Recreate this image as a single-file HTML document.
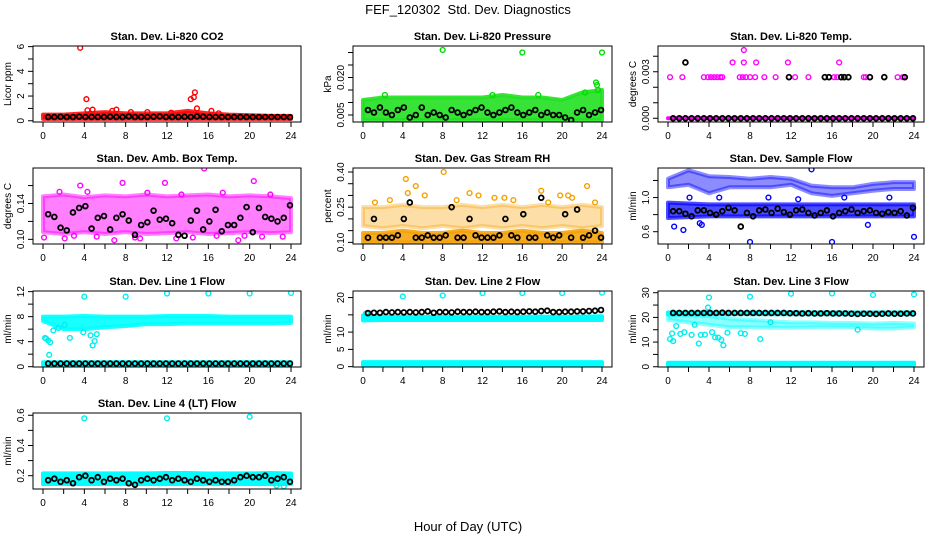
<!DOCTYPE html>
<html><head><meta charset="utf-8">
<style>
body{margin:0;background:#fff;}
svg{display:block;font-family:"Liberation Sans",Arial,sans-serif;}
.t{font-weight:bold;font-size:11px;}
.tk{font-size:10px;}
</style></head>
<body>
<svg id="chart" width="936" height="540" viewBox="0 0 936 540" xmlns="http://www.w3.org/2000/svg">
<rect width="936" height="540" fill="#fff"/>
<text x="468" y="14" text-anchor="middle" font-size="13" xml:space="preserve">FEF_120302  Std. Dev. Diagnostics</text>
<text x="468" y="531" text-anchor="middle" font-size="13">Hour of Day (UTC)</text>
</svg>
<script>
const HOURS=[0.5,1.1,1.7,2.3,2.9,3.5,4.1,4.7,5.3,5.9,6.5,7.1,7.7,8.3,8.9,9.5,10.1,10.7,11.3,11.9,12.5,13.1,13.7,14.3,14.9,15.5,16.1,16.7,17.3,17.9,18.5,19.1,19.7,20.3,20.9,21.5,22.1,22.7,23.3,23.9];
const BAND_H=[0,2,4,6,8,10,12,14,16,18,20,22,24];
const X_TICKS=[0,2,4,6,8,10,12,14,16,18,20,22,24];
const X_LABELS=[0,4,8,12,16,20,24];

const P1_LO=[0.15,0.15,0.15,0.15,0.15,0.15,0.15,0.15,0.15,0.15,0.15,0.15,0.15];
const P1_HI=[0.5,0.5,0.6,0.7,0.6,0.6,0.6,0.8,0.6,0.5,0.45,0.4,0.4];
const P1_RX=[3.6,4.2,4.3,4.8,6.7,7.1,8.5,10.1,12.4,14.3,14.6,14.7,14.9,16.3,17.0];
const P1_RY=[5.9,1.75,0.85,0.9,0.8,0.9,0.7,0.7,0.65,1.75,1.9,2.3,1.0,0.8,0.6];
const P1_BY=[0.3,0.3,0.32,0.3,0.3,0.33,0.3,0.3,0.3,0.3,0.32,0.3,0.3,0.35,0.3,0.3,0.3,0.32,0.35,0.3,0.3,0.3,0.32,0.3,0.35,0.32,0.3,0.3,0.3,0.3,0.3,0.3,0.3,0.3,0.3,0.3,0.3,0.3,0.3,0.28];
const P2_LO=[0.003,0.003,0.003,0.003,0.003,0.003,0.003,0.003,0.003,0.003,0.003,0.003,0.003];
const P2_HI=[0.011,0.012,0.012,0.012,0.012,0.012,0.012,0.013,0.012,0.012,0.011,0.014,0.015];
const P2_GX=[8.0,16.0,24.0,23.4,23.5,22.3,23.6,17.6,13.0,2.2];
const P2_GY=[0.031,0.030,0.030,0.018,0.017,0.014,0.015,0.013,0.013,0.013];
const P2_BY=[0.007,0.006,0.008,0.006,0.005,0.007,0.008,0.004,0.005,0.008,0.005,0.006,0.005,0.004,0.007,0.006,0.005,0.006,0.007,0.008,0.006,0.005,0.006,0.007,0.008,0.006,0.005,0.006,0.007,0.005,0.006,0.005,0.005,0.004,0.003,0.006,0.007,0.005,0.006,0.007];
const P3_LO=[0,0,0,0,0,0,0,0,0,0,0,0,0];
const P3_HI=[0,0,0,0,0,0,0,0,0,0,0,0,0];
const P3_MX=[0.2,1.4,3.5,3.9,4.2,4.5,4.8,5.1,5.3,7.0,7.3,7.6,8.0,8.5,9.4,10.5,12.4,13.7,16.2,16.5,19.1,19.3,22.4,22.9,6.3,7.4,8.6,11.7,16.7,7.4];
const P3_MY=[0.00265,0.00265,0.00265,0.00265,0.00265,0.00265,0.00265,0.00265,0.00265,0.00265,0.00265,0.00265,0.00265,0.00265,0.00265,0.00265,0.00265,0.00265,0.00265,0.00265,0.00265,0.00265,0.00265,0.00265,0.0036,0.0036,0.0036,0.0036,0.0036,0.0044];
const P3_KX=[11.8,15.3,15.7,16.9,17.2,17.6,19.7,21.1,23.1,1.7];
const P3_KY=[0.00265,0.00265,0.00265,0.00265,0.00265,0.00265,0.00265,0.00265,0.00265,0.0036];
const P3_BY=[0,0,0,0,0,0,0,0,0,0,0,0,0,0,0,0,0,0,0,0,0,0,0,0,0,0,0,0,0,0,0,0,0,0,0,0,0,0,0,0];
const P4_LO=[0.108,0.106,0.108,0.106,0.108,0.106,0.107,0.108,0.106,0.107,0.108,0.107,0.108];
const P4_HI=[0.148,0.150,0.147,0.149,0.148,0.150,0.148,0.149,0.150,0.148,0.149,0.148,0.146];
const P4_MX=[3.6,15.6,20.4,7.7,11.8,0.1,6.9,18.9,2.1,1.6,4.3,10.1,13.4,17.4,22.0,5.2,9.4,14.5,19.5,23.2,3.0,8.9,12.9,16.8,21.2];
const P4_MY=[0.160,0.179,0.165,0.163,0.163,0.102,0.099,0.099,0.101,0.153,0.153,0.152,0.150,0.152,0.150,0.103,0.101,0.102,0.104,0.103,0.104,0.102,0.101,0.104,0.103];
const P4_BY=[0.128,0.125,0.113,0.110,0.130,0.135,0.137,0.112,0.124,0.126,0.111,0.124,0.128,0.121,0.105,0.116,0.119,0.132,0.122,0.123,0.118,0.105,0.104,0.121,0.132,0.111,0.120,0.133,0.109,0.116,0.116,0.124,0.136,0.108,0.135,0.125,0.123,0.120,0.124,0.138];
const P5_LO=[0.10,0.10,0.10,0.10,0.10,0.10,0.10,0.10,0.10,0.10,0.10,0.10,0.10];
const P5_HI=[0.14,0.14,0.15,0.14,0.14,0.15,0.14,0.14,0.15,0.14,0.14,0.15,0.14];
const P5_ULO=[0.17,0.16,0.17,0.16,0.17,0.16,0.17,0.16,0.17,0.16,0.17,0.16,0.17];
const P5_UHI=[0.25,0.25,0.26,0.25,0.25,0.26,0.25,0.26,0.25,0.26,0.25,0.26,0.25];
const P5_OX=[4.3,5.3,8.1,17.9,22.5,4.5,1.2,6.2,9.4,11.6,13.2,15.1,19.8,21.0,23.3,2.7,10.7,14.2,18.6,20.6];
const P5_OY=[0.37,0.34,0.40,0.32,0.34,0.31,0.27,0.30,0.28,0.30,0.29,0.28,0.30,0.29,0.27,0.28,0.31,0.29,0.27,0.30];
const P5_BY=[0.12,0.20,0.12,0.12,0.12,0.13,0.20,0.27,0.12,0.12,0.13,0.12,0.12,0.13,0.25,0.12,0.12,0.20,0.13,0.12,0.12,0.12,0.13,0.20,0.13,0.12,0.22,0.12,0.12,0.29,0.13,0.12,0.13,0.22,0.12,0.24,0.12,0.13,0.15,0.12];
const P6_LO=[0.76,0.77,0.78,0.78,0.78,0.78,0.78,0.78,0.78,0.78,0.78,0.78,0.78];
const P6_HI=[0.94,0.93,0.92,0.92,0.92,0.92,0.92,0.92,0.92,0.92,0.92,0.92,0.92];
const P6_ULO=[1.12,1.15,1.05,1.12,1.12,1.12,1.15,1.05,1.02,1.05,1.08,1.10,1.10];
const P6_UHI=[1.22,1.32,1.25,1.24,1.22,1.24,1.22,1.14,1.12,1.12,1.16,1.18,1.18];
const P6_OX=[8.0,16.0,14.0,24.0,1.5,0.6,19.5,3.1,3.3,2.1,5.0,9.8,12.7,17.2,21.6];
const P6_OY=[0.48,0.48,1.33,0.54,0.62,0.66,0.68,0.70,0.68,1.00,1.00,1.00,0.98,1.00,1.00];
const P6_BY=[0.84,0.84,0.81,0.78,0.85,0.85,0.82,0.80,0.84,0.88,0.85,0.66,0.82,0.78,0.85,0.86,0.82,0.87,0.83,0.80,0.85,0.86,0.82,0.79,0.82,0.85,0.78,0.82,0.84,0.86,0.82,0.84,0.85,0.82,0.81,0.83,0.82,0.84,0.79,0.88];
const P7_LO=[7.3,6.0,6.0,6.3,6.5,6.8,6.8,6.9,6.9,6.9,6.9,6.9,7.0];
const P7_HI=[8.0,8.0,8.1,8.0,8.0,8.0,8.1,8.1,8.1,8.0,8.0,8.0,8.0];
const P7_BLO=[0.3,0.3,0.3,0.3,0.3,0.3,0.3,0.3,0.3,0.3,0.3,0.3,0.3];
const P7_BHI=[0.7,0.7,0.7,0.7,0.7,0.7,0.7,0.7,0.7,0.7,0.7,0.7,0.7];
const P7_CX=[4,8,12,16,20,24,0.3,0.5,0.7,0.6,2.6,3.9,4.6,4.8,5.0,5.2,1.0,1.5,2.1,0.2];
const P7_CY=[11.2,11.2,11.7,11.7,11.7,11.8,4.5,4.2,3.9,1.9,4.6,5.5,5.0,3.4,4.1,5.2,5.8,6.2,6.7,4.6];
const P7_BY=[0.5,0.5,0.5,0.5,0.5,0.5,0.5,0.5,0.5,0.5,0.5,0.5,0.5,0.5,0.5,0.5,0.5,0.5,0.5,0.5,0.5,0.5,0.5,0.5,0.5,0.5,0.5,0.5,0.5,0.5,0.5,0.5,0.5,0.5,0.5,0.5,0.5,0.5,0.5,0.5];
const P8_LO=[13.4,13.5,13.5,13.5,13.5,13.5,13.5,13.5,13.5,13.5,13.5,13.5,13.5];
const P8_HI=[14.8,14.4,14.4,14.4,14.4,14.4,14.5,14.4,14.4,14.5,14.4,14.5,14.6];
const P8_BLO=[0.4,0.4,0.4,0.4,0.4,0.4,0.4,0.4,0.4,0.4,0.4,0.4,0.4];
const P8_BHI=[1.3,1.3,1.3,1.3,1.3,1.3,1.3,1.3,1.3,1.3,1.3,1.3,1.3];
const P8_CX=[4,8,12,16,20,24,0.3];
const P8_CY=[20.3,20.6,21.3,21.3,21.3,21.4,15.4];
const P8_BY=[15.5,15.6,15.6,15.8,15.7,15.8,15.7,15.8,15.7,15.8,16.0,15.6,15.8,15.8,15.7,15.9,15.8,15.8,15.9,15.8,15.8,15.9,16.0,15.8,15.9,15.8,15.9,16.0,15.9,16.1,16.2,15.8,15.8,15.9,15.9,16.0,16.0,16.1,16.2,16.4];
const P9_LO=[21.2,21.3,21.3,21.3,21.3,21.3,21.3,21.3,21.3,21.3,21.3,21.3,21.3];
const P9_HI=[22.0,22.0,22.0,22.0,22.0,22.0,22.0,22.0,22.0,22.0,22.0,22.0,22.0];
const P9_MLO=[19.0,18.0,17.0,16.0,16.0,15.8,15.8,16.0,16.0,16.0,15.5,15.5,16.0];
const P9_MHI=[21.0,21.0,20.5,19.5,19.0,18.5,18.0,18.0,17.8,17.8,17.5,17.8,17.5];
const P9_BLO=[0.6,0.6,0.6,0.6,0.6,0.6,0.6,0.6,0.6,0.6,0.6,0.6,0.6];
const P9_BHI=[1.6,1.6,1.6,1.6,1.6,1.6,1.6,1.6,1.6,1.6,1.6,1.6,1.6];
const P9_CX=[4,8,12,16,20,24,0.2,0.4,0.5,0.8,1.2,1.6,2.3,2.6,3.0,3.2,3.6,4.3,4.6,4.9,5.2,5.4,5.8,7.1,7.5,9.0,10.0,18.5,3.9];
const P9_CY=[28.1,28.4,29.6,29.7,29.1,29.3,11.2,13.5,10.4,16.5,13.3,14.0,12.9,17.0,9.4,12.9,13.0,14.0,11.9,11.8,10.9,8.7,13.8,13.6,13.3,11.2,18.0,15.0,24.0];
const P9_BY=[21.8,21.8,21.8,21.8,21.8,21.8,21.8,21.8,21.9,21.8,21.8,21.8,21.8,21.8,21.8,21.8,21.8,21.8,21.8,21.7,21.7,21.6,21.7,21.6,21.6,21.7,21.6,21.6,21.6,21.5,21.4,21.5,21.5,21.4,21.5,21.6,21.5,21.5,21.6,21.6];
const P10_LO=[0.145,0.145,0.145,0.145,0.145,0.145,0.145,0.145,0.145,0.145,0.145,0.145,0.145];
const P10_HI=[0.215,0.215,0.215,0.215,0.215,0.215,0.218,0.218,0.215,0.215,0.215,0.218,0.215];
const P10_CX=[4,12,20,22.6,23.3];
const P10_CY=[0.58,0.58,0.59,0.135,0.13];
const P10_BY=[0.17,0.18,0.16,0.17,0.15,0.19,0.20,0.17,0.19,0.16,0.18,0.17,0.18,0.15,0.14,0.17,0.18,0.17,0.18,0.19,0.17,0.18,0.17,0.16,0.18,0.17,0.16,0.17,0.16,0.16,0.17,0.19,0.20,0.19,0.19,0.20,0.17,0.18,0.19,0.16];

const NS='http://www.w3.org/2000/svg';
const svg=document.getElementById('chart');
const COLS=[[33,301],[353,612],[658,924]];
const ROWS=[[46,122],[168,244],[291,367],[413,489]];

function mk(tag,attrs,parent){const e=document.createElementNS(NS,tag);for(const k in attrs)e.setAttribute(k,attrs[k]);(parent||svg).appendChild(e);return e;}

function panel(cfg){
  const [x0,x1]=COLS[cfg.col],[y0,y1]=ROWS[cfg.row];
  const g=mk('g',{});
  
  
  const xs=h=>x0+10+h/24*(x1-x0-20);
  const ys=v=>y1-(v-cfg.lo)/(cfg.hi-cfg.lo)*(y1-y0);
  const clipId='c'+cfg.name;
  const cp=mk('clipPath',{id:clipId},g);mk('rect',{x:x0,y:y0,width:x1-x0,height:y1-y0},cp);
  const plot=mk('g',{'clip-path':'url(#'+clipId+')'},g);
  (cfg.bands||[]).forEach(b=>{
    let pts=[];
    BAND_H.forEach((h,i)=>pts.push(xs(h)+','+ys(b.hi[i])));
    for(let i=BAND_H.length-1;i>=0;i--)pts.push(xs(BAND_H[i])+','+ys(b.lo[i]));
    const p=mk('polygon',{points:pts.join(' '),fill:b.color,'fill-opacity':b.op||1,stroke:b.color,'stroke-opacity':b.op||1,'stroke-width':4,'stroke-linejoin':'round'},plot);
    
    
  });
  (cfg.series||[]).forEach(s=>{
    const sw=s.color==='#000'?1.8:1.4;
    s.x.forEach((h,i)=>{
      const c=mk('circle',{cx:xs(h),cy:ys(s.y[i]),r:2.4,fill:'none',stroke:s.color,'stroke-width':sw},plot);
      
      
    });
  });
  const box=mk('rect',{x:x0,y:y0,width:x1-x0,height:y1-y0,fill:'none',stroke:'#000','stroke-width':1},g);
  
  
  const t=mk('text',{x:(x0+x1)/2,y:y0-6,'text-anchor':'middle',class:'t'},g);t.textContent=cfg.title;
  
  
  mk('line',{x1:xs(0),x2:xs(24),y1:y1,y2:y1,stroke:'#000'},g);
  X_TICKS.forEach(h=>mk('line',{x1:xs(h),x2:xs(h),y1:y1,y2:y1+5,stroke:'#000'},g));
  X_LABELS.forEach(h=>{const l=mk('text',{x:xs(h),y:y1+17,'text-anchor':'middle',class:'tk'},g);l.textContent=h;
    
    });
  const yt=cfg.ticks;
  mk('line',{x1:x0,x2:x0,y1:ys(yt[0]),y2:ys(yt[yt.length-1]),stroke:'#000'},g);
  yt.forEach(v=>mk('line',{x1:x0-5,x2:x0,y1:ys(v),y2:ys(v),stroke:'#000'},g));
  cfg.labels.forEach((lab,i)=>{const v=cfg.labelVals[i];const yy=ys(v);
    const l=mk('text',{x:x0-9,y:yy,'text-anchor':'middle',class:'tk',transform:'rotate(-90 '+(x0-9)+' '+yy+')'},g);l.textContent=lab;
    
    });
  const ym=(y0+y1)/2;
  const yl=mk('text',{x:x0-22,y:ym,'text-anchor':'middle',class:'tk',transform:'rotate(-90 '+(x0-22)+' '+ym+')'},g);yl.textContent=cfg.ylab;
  
  
}

panel({name:'co2',col:0,row:0,title:'Stan. Dev. Li-820 CO2',ylab:'Licor ppm',lo:-0.1,hi:6.05,ticks:[0,1,2,3,4,5,6],labelVals:[0,2,4,6],labels:['0','2','4','6'],
  bands:[{color:'#ff0000',lo:P1_LO,hi:P1_HI,op:0.85}],series:[{color:'#ff0000',x:P1_RX,y:P1_RY},{color:'#000',x:HOURS,y:P1_BY}]});
panel({name:'pressure',col:1,row:0,title:'Stan. Dev. Li-820 Pressure',ylab:'kPa',lo:0.0022,hi:0.0326,ticks:[0.005,0.010,0.015,0.020,0.025,0.030],labelVals:[0.005,0.020],labels:['0.005','0.020'],
  bands:[{color:'#22e022',lo:P2_LO,hi:P2_HI,op:0.9}],series:[{color:'#00dd00',x:P2_GX,y:P2_GY},{color:'#000',x:HOURS,y:P2_BY}]});
panel({name:'li820-temp',col:2,row:0,title:'Stan. Dev. Li-820 Temp.',ylab:'degrees C',lo:-0.00024,hi:0.00466,ticks:[0,0.001,0.002,0.003,0.004],labelVals:[0,0.003],labels:['0.000','0.003'],
  bands:[{color:'#ff00ff',lo:P3_LO,hi:P3_HI}],series:[{color:'#ff00ff',x:P3_MX,y:P3_MY},{color:'#000',x:P3_KX,y:P3_KY},{color:'#000',x:HOURS,y:P3_BY}]});
panel({name:'amb-box-temp',col:0,row:1,title:'Stan. Dev. Amb. Box Temp.',ylab:'degrees C',lo:0.0948,hi:0.1796,ticks:[0.10,0.12,0.14,0.16],labelVals:[0.10,0.14],labels:['0.10','0.14'],
  bands:[{color:'#ff00ff',lo:P4_LO,hi:P4_HI,op:0.5}],series:[{color:'#ff00ff',x:P4_MX,y:P4_MY},{color:'#000',x:HOURS,y:P4_BY}]});
panel({name:'gas-rh',col:1,row:1,title:'Stan. Dev. Gas Stream RH',ylab:'percent',lo:0.093,hi:0.417,ticks:[0.10,0.15,0.20,0.25,0.30,0.35,0.40],labelVals:[0.10,0.25,0.40],labels:['0.10','0.25','0.40'],
  bands:[{color:'#f5a000',lo:P5_LO,hi:P5_HI,op:0.85},{color:'#f5a000',lo:P5_ULO,hi:P5_UHI,op:0.35}],series:[{color:'#f5a000',x:P5_OX,y:P5_OY},{color:'#000',x:HOURS,y:P5_BY}]});
panel({name:'sample-flow',col:2,row:1,title:'Stan. Dev. Sample Flow',ylab:'ml/min',lo:0.456,hi:1.346,ticks:[0.6,0.8,1.0,1.2],labelVals:[0.6,1.0],labels:['0.6','1.0'],
  bands:[{color:'#0000ff',lo:P6_LO,hi:P6_HI,op:0.7},{color:'#0000ff',lo:P6_ULO,hi:P6_UHI,op:0.45}],series:[{color:'#0000ff',x:P6_OX,y:P6_OY},{color:'#000',x:HOURS,y:P6_BY}]});
panel({name:'line1-flow',col:0,row:2,title:'Stan. Dev. Line 1 Flow',ylab:'ml/min',lo:-0.05,hi:12.1,ticks:[0,2,4,6,8,10,12],labelVals:[0,4,8,12],labels:['0','4','8','12'],
  bands:[{color:'#00ffff',lo:P7_LO,hi:P7_HI,op:0.9},{color:'#00ffff',lo:P7_BLO,hi:P7_BHI}],series:[{color:'#00eeee',x:P7_CX,y:P7_CY},{color:'#000',x:HOURS,y:P7_BY}]});
panel({name:'line2-flow',col:1,row:2,title:'Stan. Dev. Line 2 Flow',ylab:'ml/min',lo:-0.1,hi:21.9,ticks:[0,5,10,15,20],labelVals:[0,5,10,20],labels:['0','5','10','20'],
  bands:[{color:'#00ffff',lo:P8_LO,hi:P8_HI},{color:'#00ffff',lo:P8_BLO,hi:P8_BHI}],series:[{color:'#00eeee',x:P8_CX,y:P8_CY},{color:'#000',x:HOURS,y:P8_BY}]});
panel({name:'line3-flow',col:2,row:2,title:'Stan. Dev. Line 3 Flow',ylab:'ml/min',lo:-0.1,hi:30.7,ticks:[0,5,10,15,20,25,30],labelVals:[0,10,20,30],labels:['0','10','20','30'],
  bands:[{color:'#00ffff',lo:P9_LO,hi:P9_HI},{color:'#00ffff',lo:P9_MLO,hi:P9_MHI,op:0.45},{color:'#00ffff',lo:P9_BLO,hi:P9_BHI}],series:[{color:'#00eeee',x:P9_CX,y:P9_CY},{color:'#000',x:HOURS,y:P9_BY}]});
panel({name:'line4-flow',col:0,row:3,title:'Stan. Dev. Line 4 (LT) Flow',ylab:'ml/min',lo:0.112,hi:0.615,ticks:[0.2,0.3,0.4,0.5,0.6],labelVals:[0.2,0.4,0.6],labels:['0.2','0.4','0.6'],
  bands:[{color:'#00ffff',lo:P10_LO,hi:P10_HI}],series:[{color:'#00eeee',x:P10_CX,y:P10_CY},{color:'#000',x:HOURS,y:P10_BY}]});
</script>
</body></html>
